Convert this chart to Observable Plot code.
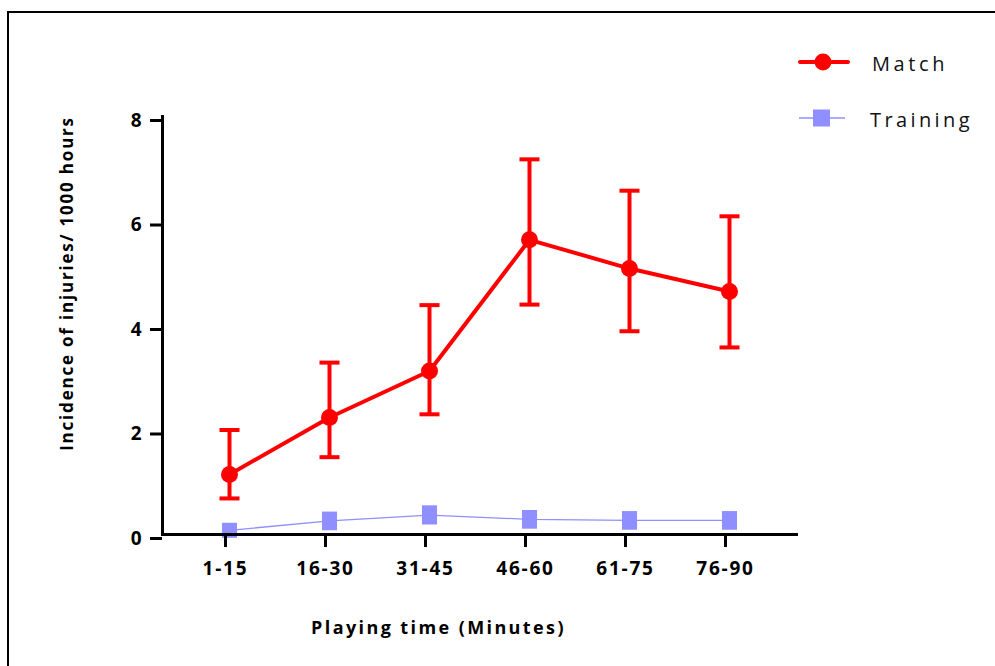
<!DOCTYPE html>
<html><head><meta charset="utf-8">
<script src="https://cdn.jsdelivr.net/npm/d3@7"></script>
<script src="https://cdn.jsdelivr.net/npm/@observablehq/plot@0.6"></script>
<style>
body{margin:0;background:#fff;}
#wrap{position:relative;width:995px;height:666px;overflow:hidden;background:#fff;font-family:"Open Sans",sans-serif;}
#border{position:absolute;left:7px;top:11px;width:1100px;height:800px;border-top:2.5px solid #000;border-left:2.5px solid #000;}
#chart{position:absolute;left:0;top:0;}
#legend{position:absolute;left:0;top:0;}
.tk text{letter-spacing:1.8px;}
.ylab text{letter-spacing:1.8px;}
.xlab text{letter-spacing:2.4px;}
</style></head>
<body><div id="wrap"><div id="border"></div><div id="chart"></div><svg id="legend" width="995" height="666"></svg></div>
<script>
const categories = ["1-15","16-30","31-45","46-60","61-75","76-90"];
const matchMean = [1.15, 2.24, 3.13, 5.64, 5.09, 4.65];
const matchLow  = [0.69, 1.48, 2.30, 4.40, 3.89, 3.58];
const matchHigh = [2.00, 3.29, 4.39, 7.18, 6.58, 6.09];
const trainingMean = [0.08, 0.26, 0.37, 0.29, 0.27, 0.27];
const trainingLow  = [0.04, 0.11, 0.22, 0.14, 0.12, 0.12];
const trainingHigh = [0.12, 0.41, 0.53, 0.44, 0.42, 0.42];
const yTicks = [0, 2, 4, 6, 8];
const seriesNames = ["Match", "Training"];
const yLabel = "Incidence of injuries/ 1000 hours";
const xLabel = "Playing time (Minutes)";

const RED = "#ff0000", BLUE = "#8f8fff";
const match = categories.map((c, i) => ({cat: c, v: matchMean[i], lo: matchLow[i], hi: matchHigh[i]}));
const training = categories.map((c, i) => ({cat: c, v: trainingMean[i], lo: trainingLow[i], hi: trainingHigh[i]}));

const capSymbol = {draw(ctx, size) { const w = Math.sqrt(size) / 2; ctx.moveTo(-w, 0); ctx.lineTo(w, 0); }};

const chart = Plot.plot({
  width: 995, height: 666,
  marginLeft: 162, marginRight: 199, marginTop: 116, marginBottom: 132,
  x: {type: "point", domain: categories, padding: 0.67},
  y: {domain: [0, 8]},
  style: {fontFamily: "'Open Sans', sans-serif", background: "transparent", color: "#000"},
  marks: [
    Plot.line(training, {x: "cat", y: "v", stroke: BLUE, strokeWidth: 1.3}),
    Plot.ruleX(training, {x: "cat", y1: "lo", y2: "hi", stroke: BLUE, strokeWidth: 3}),
    Plot.dot(training, {x: "cat", y: "lo", symbol: capSymbol, r: 8.5, fill: "none", stroke: BLUE, strokeWidth: 3}),
    Plot.dot(training, {x: "cat", y: "hi", symbol: capSymbol, r: 8.5, fill: "none", stroke: BLUE, strokeWidth: 3}),
    Plot.dot(training, {x: "cat", y: "v", symbol: "square", r: 8.5, fill: BLUE, stroke: "none"}),
    Plot.line(match, {x: "cat", y: "v", stroke: RED, strokeWidth: 4}),
    Plot.ruleX(match, {x: "cat", y1: "lo", y2: "hi", stroke: RED, strokeWidth: 4}),
    Plot.dot(match, {x: "cat", y: "lo", symbol: capSymbol, r: 11.3, fill: "none", stroke: RED, strokeWidth: 4}),
    Plot.dot(match, {x: "cat", y: "hi", symbol: capSymbol, r: 11.3, fill: "none", stroke: RED, strokeWidth: 4}),
    Plot.dot(match, {x: "cat", y: "v", r: 8.5, fill: RED, stroke: "none"}),
    Plot.frame({anchor: "left", strokeWidth: 3, stroke: "#000"}),
    Plot.frame({anchor: "bottom", strokeWidth: 3, stroke: "#000"}),
    Plot.axisY({ticks: yTicks, tickSize: 12, tickPadding: 7, strokeWidth: 3, fontSize: 19, fontWeight: "bold", dy: 4, label: null, className: "tk"}),
    Plot.axisX({tickSize: 13, tickPadding: 14, strokeWidth: 3, fontSize: 19, fontWeight: "bold", dx: -4, label: null, className: "tk"}),
    Plot.text([yLabel], {frameAnchor: "left", textAnchor: "middle", rotate: -90, dx: -95, dy: -42, fontSize: 17, fontWeight: "bold", className: "ylab"}),
    Plot.text([xLabel], {frameAnchor: "bottom", dx: -41, dy: 99, fontSize: 18, fontWeight: "bold", className: "xlab"})
  ]
});
document.getElementById("chart").appendChild(chart);

// legend
const lg = d3.select("#legend");
const m = lg.append("g");
m.append("line").attr("x1", 800).attr("x2", 848).attr("y1", 62).attr("y2", 62).attr("stroke", RED).attr("stroke-width", 4).attr("stroke-linecap", "round");
m.append("circle").attr("cx", 823).attr("cy", 62).attr("r", 8.5).attr("fill", RED);
m.append("text").attr("x", 872).attr("y", 71).text(seriesNames[0]).attr("font-size", 20).attr("letter-spacing", "3.6px").attr("font-family", "'Open Sans', sans-serif").attr("fill", "#111");
const t = lg.append("g");
t.append("line").attr("x1", 799).attr("x2", 845).attr("y1", 118).attr("y2", 118).attr("stroke", BLUE).attr("stroke-width", 1.5);
t.append("rect").attr("x", 813).attr("y", 109.5).attr("width", 17).attr("height", 17).attr("fill", BLUE);
t.append("text").attr("x", 870).attr("y", 127).text(seriesNames[1]).attr("font-size", 20).attr("letter-spacing", "3.4px").attr("font-family", "'Open Sans', sans-serif").attr("fill", "#111");
</script>
</body></html>
